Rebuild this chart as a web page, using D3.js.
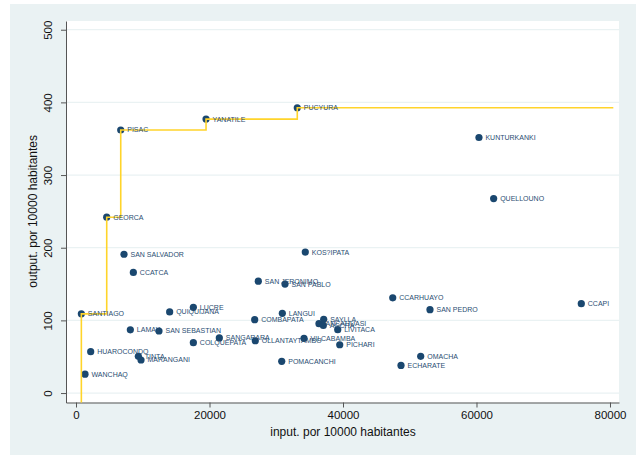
<!DOCTYPE html>
<html><head><meta charset="utf-8">
<script src="https://cdn.jsdelivr.net/npm/d3@7"></script>
<style>html,body{margin:0;padding:0;background:#fff;}svg{display:block;font-family:"Liberation Sans",Arial,sans-serif;}</style>
</head><body>
<svg id="c" width="639" height="457"></svg>
<script>
const names = ["SANTIAGO","WANCHAQ","HUAROCONDO","GEORCA","PISAC","SAN SALVADOR","LAMAY","CCATCA","TINTA","MARANGANI","SAN SEBASTIAN","QUIQUIJANA","LUCRE","COLQUEPATA","YANATILE","SANGARARA","COMBAPATA","OLLANTAYTAMBO","SAN JERONIMO","POMACANCHI","LANGUI","SAN PABLO","PUCYURA","VILCABAMBA","KOS?IPATA","ANCAHUASI","ACCHA","SAYLLA","LIVITACA","PICHARI","CCARHUAYO","ECHARATE","OMACHA","SAN PEDRO","KUNTURKANKI","QUELLOUNO","CCAPI"];
const inputs = [800,1350,2200,4600,6700,7190,8140,8590,9340,9740,12430,14030,17580,17580,19480,21470,26770,26860,27310,30820,30910,31310,33150,34160,34350,36400,37050,37110,39210,39510,47450,48690,51640,53030,60370,62570,75700];
const outputs = [109,26,57,242,362,191,87,166,50.5,45.5,85.4,111.6,118,69.3,377,75.8,101,72,154,43.6,109.7,150,392.6,75.3,194,95.5,93,101.4,87.2,66.5,131,38,50.5,114.7,351.7,267.6,123];
const xTicks = [0,20000,40000,60000,80000];
const yTicks = [0,100,200,300,400,500];
const xTitle = "input. por 10000 habitantes";
const yTitle = "output. por 10000 habitantes";
const frontierEndX = 80500;

const svg = d3.select("#c");
const L=66,R=619,T=21,B=402.5;
const x = d3.scaleLinear().domain([-1500,81350]).range([L,R]);
const y = d3.scaleLinear().domain([-13,512]).range([B,T]);

svg.append("rect").attr("x",10).attr("y",4).attr("width",626).attr("height",451).attr("fill","#eaf2f3");
svg.append("rect").attr("x",L).attr("y",T).attr("width",R-L).attr("height",B-T).attr("fill","#fff");

// gridlines
svg.append("g").selectAll("line").data(yTicks).join("line")
  .attr("x1",L).attr("x2",R).attr("y1",d=>y(d)).attr("y2",d=>y(d))
  .attr("stroke","#eaf2f3").attr("stroke-width",1.2);

// axes
const xAxis = svg.append("g").attr("transform",`translate(0,${B})`)
  .call(d3.axisBottom(x).tickValues(xTicks).tickFormat(d3.format("d")).tickSize(5).tickSizeOuter(0));
const yAxis = svg.append("g").attr("transform",`translate(${L},0)`)
  .call(d3.axisLeft(y).tickValues(yTicks).tickFormat(d3.format("d")).tickSize(5).tickSizeOuter(0));
[xAxis,yAxis].forEach(g=>{
  g.select(".domain").attr("stroke","#555").attr("stroke-width",1);
  g.selectAll(".tick line").attr("stroke","#555");
  g.selectAll(".tick text").attr("fill","#111").attr("font-size",11.5).attr("font-family","Liberation Sans, Arial, sans-serif");
});
xAxis.selectAll(".tick text").attr("dy",null).attr("y",16);
yAxis.selectAll(".tick").each(function(d){
  d3.select(this).select("text").attr("transform",`translate(-18,0) rotate(-90)`).attr("x",0).attr("y",0)
    .attr("dy","0.35em").attr("text-anchor","middle");
});

svg.append("text").attr("x",(x(0)+x(80000))/2).attr("y",436).attr("text-anchor","middle")
  .attr("font-size",12).attr("fill","#111").text(xTitle);
svg.append("text").attr("transform",`translate(33,${(y(0)+y(500))/2}) rotate(-90)`).attr("text-anchor","middle")
  .attr("dy","0.35em").attr("font-size",12).attr("fill","#111").text(yTitle);

const data = names.map((n,i)=>({name:n,x:inputs[i],y:outputs[i]}));

// FDH frontier: running maximum of output sorted by input
const sorted = data.slice().sort((a,b)=>a.x-b.x);
const frontier = [];
let mx=-Infinity;
sorted.forEach(d=>{ if(d.y>mx){ mx=d.y; frontier.push(d);} });
const fpts = [[frontier[0].x, y.domain()[0]], ...frontier.map(d=>[d.x,d.y]), [frontierEndX, frontier[frontier.length-1].y]];

// points
svg.append("g").selectAll("circle").data(data).join("circle")
  .attr("cx",d=>x(d.x)).attr("cy",d=>y(d.y)).attr("r",3.6).attr("fill","#1a476f");

svg.append("path").datum(fpts)
  .attr("d",d3.line().x(d=>x(d[0])).y(d=>y(d[1])).curve(d3.curveStepAfter))
  .attr("fill","none").attr("stroke","#ffd42a").attr("stroke-width",1.6);

svg.append("g").selectAll("text").data(data).join("text")
  .attr("x",d=>x(d.x)+6.5).attr("y",d=>y(d.y)).attr("dy","0.35em")
  .attr("font-size",7).attr("fill","#2a4d72").text(d=>d.name);
</script>
</body></html>
